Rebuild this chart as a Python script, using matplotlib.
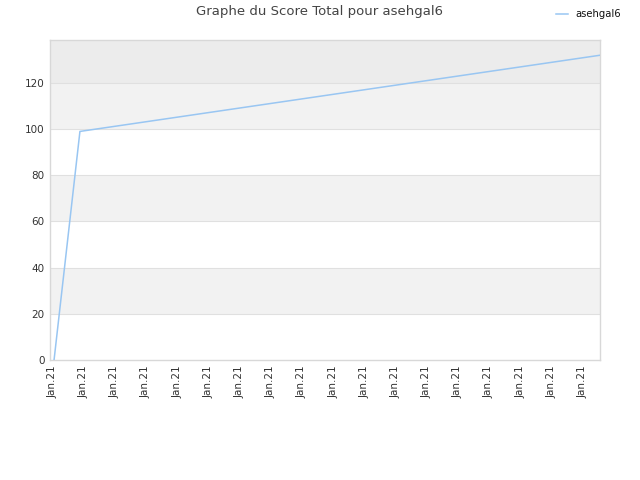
import matplotlib
matplotlib.use("Agg")
import matplotlib.pyplot as plt

# data
x_pos = [0.05, 0.88, 17.56]
scores = [0, 99, 132]
tick_labels = ["Jan.21"] * 18
y_ticks = [0, 20, 40, 60, 80, 100, 120]
title = "Graphe du Score Total pour asehgal6"
series_name = "asehgal6"

fig = plt.figure(figsize=(6.4, 4.8), dpi=100)
ax = fig.add_axes([50/640, 120/480, 550/640, 320/480])

ymax = 138.6
bands = [(0, 20, "#ffffff"), (20, 40, "#f2f2f2"), (40, 60, "#ffffff"), (60, 80, "#f2f2f2"),
         (80, 100, "#ffffff"), (100, 120, "#f2f2f2"), (120, ymax, "#ececec")]
for lo, hi, c in bands:
    ax.axhspan(lo, hi, color=c, zorder=0, lw=0)
for y in y_ticks[1:]:
    ax.axhline(y, color="#e0e0e0", lw=0.8, zorder=1)

ax.plot(x_pos, scores, color="#99c6f2", lw=1.1, zorder=3, label=series_name)

ax.set_xlim(-0.08, 17.56)
ax.set_ylim(0, ymax)
ax.set_yticks(y_ticks)
ax.set_xticks(range(len(tick_labels)))
ax.set_xticklabels(tick_labels, rotation=90)
ax.tick_params(axis="both", length=0, labelsize=7.5, labelcolor="#333333", pad=4)
for s in ax.spines.values():
    s.set_color("#d8d8d8")
    s.set_linewidth(1)

fig.text(0.5, 1 - 12/480, title, ha="center", va="center", fontsize=9.5, color="#444444")
fig.legend(loc="center right", bbox_to_anchor=(0.985, 1 - 14/480), frameon=False,
           fontsize=7.2, handlelength=1.2, handletextpad=0.8, labelcolor="#111111")

fig.savefig("out.png", dpi=100)
